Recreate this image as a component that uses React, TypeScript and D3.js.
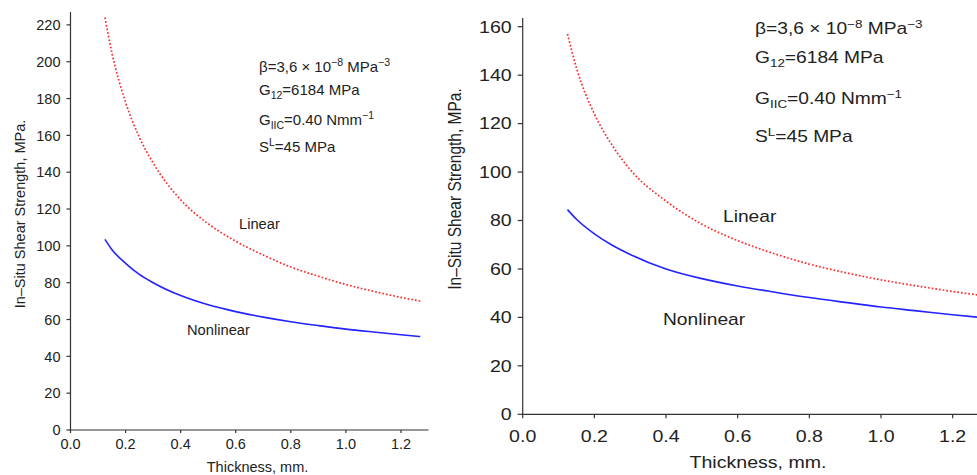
import React from 'react';
import * as d3 from 'd3';

// thickness (mm) at which the curves were read
const thickness = [0.125, 0.15, 0.2, 0.25, 0.3, 0.4, 0.5, 0.6, 0.7, 0.8, 0.9, 1.0, 1.1, 1.2, 1.27];

// left panel (MPa)
const leftLinear = [224, 205, 178, 159, 145, 125, 112, 102.5, 95, 88.5, 83.5, 79, 75.3, 72, 70];
const leftNonlinear = [103.5, 98, 90.5, 84.5, 80, 73, 68, 64.3, 61.3, 58.8, 56.7, 54.8, 53.2, 51.7, 50.7];

// right panel (MPa)
const rightLinear = [157, 143, 124, 111, 101, 88, 78.5, 71.7, 66.4, 62, 58.5, 55.5, 53, 50.7, 49.3];
const rightNonlinear = [84.5, 80.5, 74.5, 69.8, 66, 60, 56, 53, 50.5, 48.2, 46.2, 44.3, 42.7, 41.1, 40.1];

const leftYTicks = [0, 20, 40, 60, 80, 100, 120, 140, 160, 180, 200, 220];
const rightYTicks = [0, 20, 40, 60, 80, 100, 120, 140, 160];
const xTicks = [0, 0.2, 0.4, 0.6, 0.8, 1.0, 1.2];

const FONT = '"Liberation Sans", Arial, Helvetica, sans-serif';
const INK = '#222';

type Cfg = {
  x0: number; x1: number; xMax: number;
  yBottom: number; yTop: number; yMax: number;
  yTicks: number[];
  yTickLen: number; xTickLen: number;
  size: number; sx: number;
  xTickBase: number;
  xLabel: [number, number];
  yLabel: [number, number, number];
  note: { x: number; base: number[]; size: number };
  linLabel: [number, number];
  nonLabel: [number, number];
  labelSize: number;
  linear: number[];
  nonlinear: number[];
};

const T = ({ x, y, sx, size, anchor = 'start', rot = false, children }: any) => (
  <text
    transform={`translate(${x},${y}) scale(${sx},1)${rot ? ' rotate(-90)' : ''}`}
    fontSize={size}
    textAnchor={anchor}
    fill={INK}
  >
    {children}
  </text>
);

const Panel = ({ c }: { c: Cfg }) => {
  const x = d3.scaleLinear().domain([0, c.xMax]).range([c.x0, c.x1]);
  const y = d3.scaleLinear().domain([0, c.yMax]).range([c.yBottom, c.yTop]);
  const line = d3.line<number>()
    .x((_, i) => x(thickness[i]))
    .y(d => y(d))
    .curve(d3.curveMonotoneX);
  const s = c.note.size;
  const sub = s * 0.7;

  return (
    <g>
      {/* axes */}
      <line x1={x(0)} x2={x(0)} y1={y(0)} y2={y(c.yMax)} stroke="#333" strokeWidth={1.2} />
      <line x1={x(0)} x2={x(c.xMax)} y1={y(0)} y2={y(0)} stroke="#333" strokeWidth={1.2} />
      {c.yTicks.map(t => (
        <g key={'y' + t}>
          <line x1={x(0) - c.yTickLen} x2={x(0)} y1={y(t)} y2={y(t)} stroke="#333" strokeWidth={1.2} />
          <T x={x(0) - c.yTickLen - 6} y={y(t) + c.size * 0.36} sx={c.sx} size={c.size} anchor="end">{t}</T>
        </g>
      ))}
      {xTicks.map(t => (
        <g key={'x' + t}>
          <line x1={x(t)} x2={x(t)} y1={y(0)} y2={y(0) + c.xTickLen} stroke="#333" strokeWidth={1.2} />
          <T x={x(t)} y={c.xTickBase} sx={c.sx} size={c.size} anchor="middle">{t.toFixed(1)}</T>
        </g>
      ))}
      <T x={c.xLabel[0]} y={c.xLabel[1]} sx={c.sx} size={c.size} anchor="middle">Thickness, mm.</T>
      <T x={c.yLabel[0]} y={c.yLabel[1]} sx={c.sx} size={c.yLabel[2]} anchor="middle" rot>
        In–Situ Shear Strength, MPa.
      </T>

      {/* curves */}
      <path d={line(c.linear) || ''} fill="none" stroke="#ff2a2a" strokeWidth={1.7} strokeDasharray="1.7,2" />
      <path d={line(c.nonlinear) || ''} fill="none" stroke="#2323ff" strokeWidth={1.6} />

      <T x={c.linLabel[0]} y={c.linLabel[1]} sx={c.sx} size={c.labelSize}>Linear</T>
      <T x={c.nonLabel[0]} y={c.nonLabel[1]} sx={c.sx} size={c.labelSize}>Nonlinear</T>

      {/* material data */}
      <T x={c.note.x} y={c.note.base[0]} sx={c.sx} size={s}>
        β=3,6 × 10<tspan dy={-s * 0.4} fontSize={sub}>−8</tspan>
        <tspan dy={s * 0.4}> MPa</tspan>
        <tspan dy={-s * 0.4} fontSize={sub}>−3</tspan>
      </T>
      <T x={c.note.x} y={c.note.base[1]} sx={c.sx} size={s}>
        G<tspan dy={s * 0.25} fontSize={sub}>12</tspan>
        <tspan dy={-s * 0.25}>=6184 MPa</tspan>
      </T>
      <T x={c.note.x} y={c.note.base[2]} sx={c.sx} size={s}>
        G<tspan dy={s * 0.25} fontSize={sub}>IIC</tspan>
        <tspan dy={-s * 0.25}>=0.40 Nmm</tspan>
        <tspan dy={-s * 0.4} fontSize={sub}>−1</tspan>
      </T>
      <T x={c.note.x} y={c.note.base[3]} sx={c.sx} size={s}>
        S<tspan dy={-s * 0.4} fontSize={sub}>L</tspan>
        <tspan dy={s * 0.4}>=45 MPa</tspan>
      </T>
    </g>
  );
};

const leftCfg: Cfg = {
  x0: 70.5, x1: 70.5 + 1.3 * 275.4, xMax: 1.3,
  yBottom: 430, yTop: 12, yMax: 227,
  yTicks: leftYTicks,
  yTickLen: 4, xTickLen: 3,
  size: 14.5, sx: 1,
  xTickBase: 449,
  xLabel: [257.5, 472],
  yLabel: [25, 214, 14.5],
  note: { x: 259, base: [72, 95, 125, 152], size: 15 },
  linLabel: [239, 229],
  nonLabel: [187, 335],
  labelSize: 14.7,
  linear: leftLinear,
  nonlinear: leftNonlinear,
};

const rightCfg: Cfg = {
  x0: 522.7, x1: 522.7 + 1.3 * 358.3, xMax: 1.3,
  yBottom: 414.3, yTop: 18, yMax: 163.6,
  yTicks: rightYTicks,
  yTickLen: 5, xTickLen: 4,
  size: 16.3, sx: 1.2,
  xTickBase: 442,
  xLabel: [758, 468],
  yLabel: [461, 189, 15.5],
  note: { x: 755, base: [34, 63, 104, 142], size: 16 },
  linLabel: [723, 222],
  nonLabel: [663, 325],
  labelSize: 16,
  linear: rightLinear,
  nonlinear: rightNonlinear,
};

export default function App() {
  return (
    <svg
      width={977}
      height={475}
      style={{ position: 'absolute', left: 0, top: 0, background: '#fff', fontFamily: FONT }}
    >
      <rect width={977} height={475} fill="#fff" />
      <Panel c={leftCfg} />
      <Panel c={rightCfg} />
    </svg>
  );
}
